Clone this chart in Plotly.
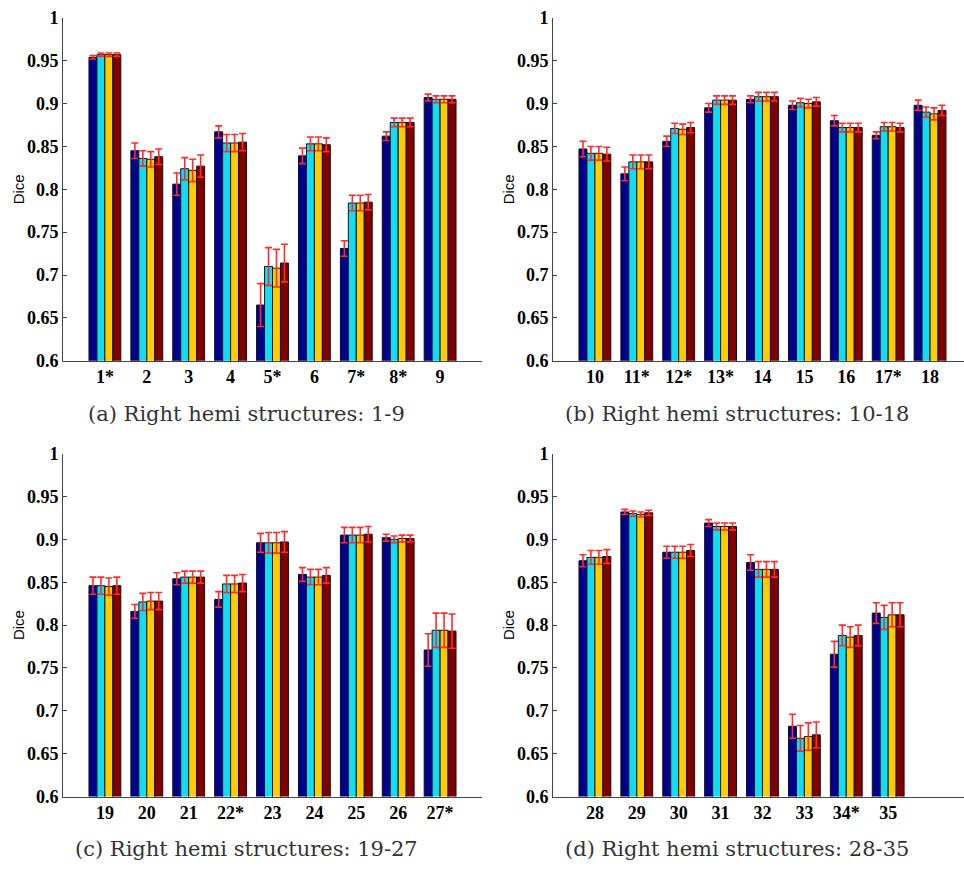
import plotly.graph_objects as go

# Structure labels (asterisk marks a significant difference)
labels_a = ["1*", "2", "3", "4", "5*", "6", "7*", "8*", "9"]
labels_b = ["10", "11*", "12*", "13*", "14", "15", "16", "17*", "18"]
labels_c = ["19", "20", "21", "22*", "23", "24", "25", "26", "27*"]
labels_d = ["28", "29", "30", "31", "32", "33", "34*", "35"]

# Mean Dice per method (four methods per structure)
dice_a = [
    [0.954, 0.845, 0.806, 0.867, 0.665, 0.839, 0.731, 0.862, 0.907],
    [0.957, 0.836, 0.824, 0.854, 0.710, 0.853, 0.784, 0.878, 0.905],
    [0.957, 0.835, 0.822, 0.854, 0.708, 0.853, 0.784, 0.878, 0.905],
    [0.957, 0.838, 0.827, 0.855, 0.714, 0.852, 0.785, 0.878, 0.905],
]
err_a = [
    [0.002, 0.009, 0.013, 0.007, 0.025, 0.009, 0.009, 0.005, 0.004],
    [0.002, 0.009, 0.013, 0.010, 0.022, 0.008, 0.009, 0.005, 0.004],
    [0.002, 0.009, 0.013, 0.010, 0.022, 0.008, 0.009, 0.005, 0.004],
    [0.002, 0.009, 0.013, 0.010, 0.022, 0.008, 0.009, 0.005, 0.004],
]

dice_b = [
    [0.847, 0.818, 0.856, 0.895, 0.905, 0.898, 0.880, 0.863, 0.898],
    [0.842, 0.832, 0.871, 0.904, 0.908, 0.901, 0.872, 0.873, 0.890],
    [0.842, 0.832, 0.870, 0.904, 0.908, 0.900, 0.872, 0.873, 0.888],
    [0.841, 0.832, 0.872, 0.904, 0.908, 0.902, 0.872, 0.872, 0.892],
]
err_b = [
    [0.009, 0.008, 0.006, 0.005, 0.004, 0.005, 0.006, 0.004, 0.006],
    [0.008, 0.008, 0.006, 0.005, 0.005, 0.005, 0.005, 0.005, 0.006],
    [0.008, 0.008, 0.006, 0.005, 0.005, 0.005, 0.005, 0.005, 0.007],
    [0.008, 0.008, 0.006, 0.005, 0.005, 0.005, 0.005, 0.005, 0.006],
]

dice_c = [
    [0.846, 0.816, 0.854, 0.830, 0.896, 0.859, 0.905, 0.902, 0.771],
    [0.846, 0.827, 0.856, 0.848, 0.896, 0.856, 0.905, 0.900, 0.794],
    [0.845, 0.828, 0.856, 0.848, 0.896, 0.856, 0.905, 0.901, 0.794],
    [0.846, 0.828, 0.856, 0.849, 0.897, 0.858, 0.906, 0.901, 0.793],
]
err_c = [
    [0.010, 0.008, 0.007, 0.009, 0.011, 0.008, 0.009, 0.004, 0.019],
    [0.010, 0.010, 0.007, 0.010, 0.012, 0.009, 0.009, 0.004, 0.020],
    [0.010, 0.010, 0.007, 0.010, 0.012, 0.009, 0.009, 0.004, 0.020],
    [0.010, 0.010, 0.007, 0.010, 0.012, 0.009, 0.009, 0.004, 0.020],
]

dice_d = [
    [0.875, 0.932, 0.885, 0.919, 0.873, 0.682, 0.766, 0.814],
    [0.879, 0.930, 0.885, 0.915, 0.865, 0.668, 0.788, 0.809],
    [0.879, 0.929, 0.885, 0.915, 0.865, 0.670, 0.786, 0.812],
    [0.880, 0.931, 0.887, 0.915, 0.865, 0.672, 0.788, 0.812],
]
err_d = [
    [0.007, 0.003, 0.007, 0.004, 0.009, 0.014, 0.015, 0.012],
    [0.008, 0.003, 0.007, 0.004, 0.009, 0.015, 0.012, 0.014],
    [0.008, 0.003, 0.007, 0.004, 0.009, 0.016, 0.012, 0.014],
    [0.008, 0.003, 0.007, 0.004, 0.009, 0.015, 0.012, 0.014],
]

captions = [
    "(a) Right hemi structures: 1-9",
    "(b) Right hemi structures: 10-18",
    "(c) Right hemi structures: 19-27",
    "(d) Right hemi structures: 28-35",
]

y_ticks = [0.6, 0.65, 0.7, 0.75, 0.8, 0.85, 0.9, 0.95, 1.0]
y_tick_text = ["0.6", "0.65", "0.7", "0.75", "0.8", "0.85", "0.9", "0.95", "1"]

bar_colors = ["#00008F", "#10DCF6", "#FFCC00", "#800000"]

W, H = 964, 875
tick_font = dict(family="Liberation Serif", size=18, color="#000000", weight="bold")

# pixel frames of the four panels: (left, right, top, bottom, xmax)
frames = [
    (63, 482, 8, 359, 10.0),
    (553, 964, 8, 359, 9.81),
    (63, 482, 454, 805, 10.0),
    (553, 964, 454, 805, 9.81),
]
panels = [
    (labels_a, dice_a, err_a),
    (labels_b, dice_b, err_b),
    (labels_c, dice_c, err_c),
    (labels_d, dice_d, err_d),
]

fig = go.Figure()
layout_axes = {}
annotations = []

for i, ((labels, dice, err), (l, r, t, b, xmax)) in enumerate(zip(panels, frames)):
    n = i + 1
    xa = "x" if n == 1 else f"x{n}"
    ya = "y" if n == 1 else f"y{n}"
    xs = list(range(1, len(labels) + 1))
    for k in range(4):
        fig.add_trace(go.Bar(
            x=xs, y=dice[k], xaxis=xa, yaxis=ya,
            marker=dict(color=bar_colors[k], line=dict(color="#111111", width=1)),
            error_y=dict(type="data", array=err[k], visible=True,
                         color="#FF2A2A", thickness=1.6, width=3.5),
            offsetgroup=str(k), showlegend=False,
        ))
    xkey = "xaxis" if n == 1 else f"xaxis{n}"
    ykey = "yaxis" if n == 1 else f"yaxis{n}"
    layout_axes[xkey] = dict(
        domain=[l / W, r / W], anchor=ya, range=[0, xmax],
        tickvals=xs, ticktext=labels, ticks="", showgrid=False,
        zeroline=False, showline=True, linecolor="#444444", linewidth=1,
        tickfont=tick_font, fixedrange=True,
    )
    layout_axes[ykey] = dict(
        domain=[1 - b / H, 1 - t / H], anchor=xa, range=[0.6, 1.0],
        tickvals=y_ticks, ticktext=y_tick_text, ticks="inside", ticklen=4,
        tickcolor="#444444", showgrid=False, zeroline=False, showline=True,
        linecolor="#444444", linewidth=1,
        tickfont=tick_font, fixedrange=True,
    )
    # y-axis label
    annotations.append(dict(
        text="Dice", x=(l - 45) / W, y=1 - ((t + b) / 2) / H,
        xref="paper", yref="paper", xanchor="center", yanchor="middle",
        textangle=-90, showarrow=False,
        font=dict(family="Liberation Sans", size=15, color="#000000"),
    ))
    # sub-figure caption
    annotations.append(dict(
        text=captions[i], x=(l - 63 + 247) / W, y=1 - (b + 54) / H,
        xref="paper", yref="paper", xanchor="center", yanchor="middle",
        showarrow=False,
        font=dict(family="DejaVu Serif", size=21, color="#333333"),
    ))

fig.update_layout(
    width=W, height=H, margin=dict(l=0, r=0, t=0, b=0),
    paper_bgcolor="white", plot_bgcolor="white",
    barmode="group", bargap=0.24, bargroupgap=0.0,
    annotations=annotations, **layout_axes,
)

fig.write_html("out.html", config={"displayModeBar": False})
